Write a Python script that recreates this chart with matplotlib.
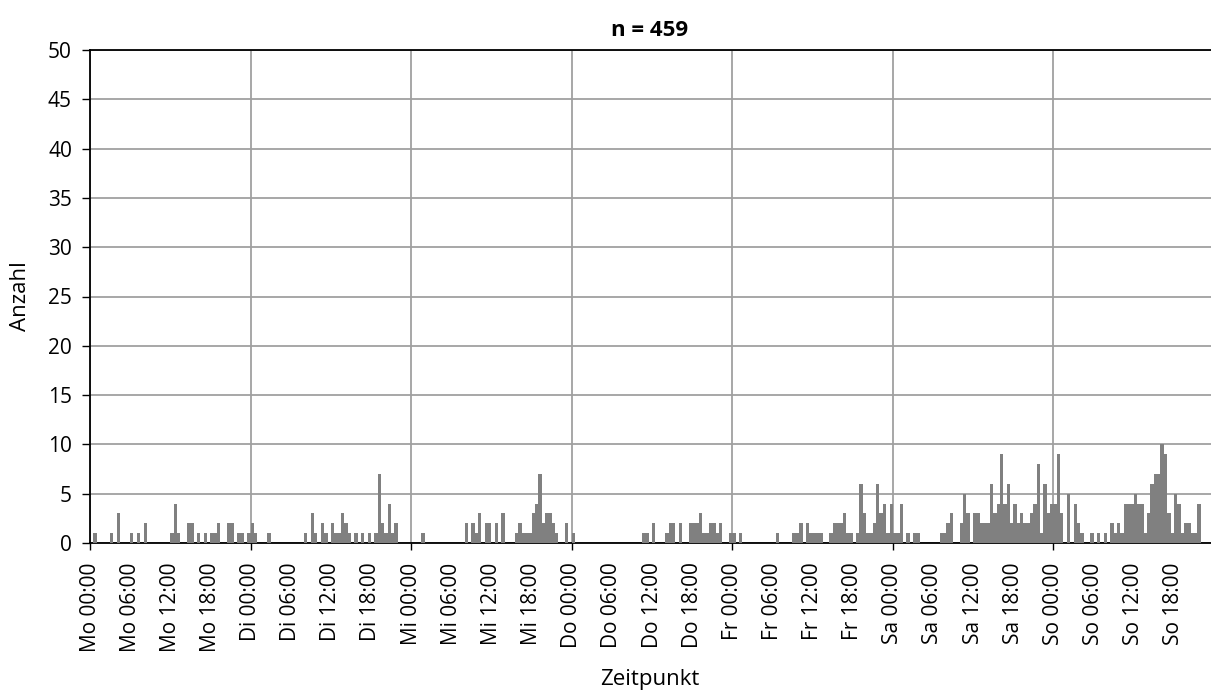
import numpy as np
import matplotlib
matplotlib.use('Agg')
import matplotlib.pyplot as plt

# counts per 30-minute bin, one list of 48 bins per weekday
mo = [0, 1, 0, 0, 0, 0, 1, 0, 3, 0, 0, 0,
      1, 0, 1, 0, 2, 0, 0, 0, 0, 0, 0, 0,
      1, 4, 1, 0, 0, 2, 2, 0, 1, 0, 1, 0,
      1, 1, 2, 0, 0, 2, 2, 0, 1, 1, 0, 1]
di = [2, 1, 0, 0, 0, 1, 0, 0, 0, 0, 0, 0,
      0, 0, 0, 0, 1, 0, 3, 1, 0, 2, 1, 0,
      2, 1, 1, 3, 2, 1, 0, 1, 0, 1, 0, 1,
      0, 1, 7, 2, 1, 4, 1, 2, 0, 0, 0, 0]
mi = [0, 0, 0, 1, 0, 0, 0, 0, 0, 0, 0, 0,
      0, 0, 0, 0, 2, 0, 2, 1, 3, 0, 2, 2,
      0, 2, 0, 3, 0, 0, 0, 1, 2, 1, 1, 1,
      3, 4, 7, 2, 3, 3, 2, 1, 0, 0, 2, 0]
do = [1, 0, 0, 0, 0, 0, 0, 0, 0, 0, 0, 0,
      0, 0, 0, 0, 0, 0, 0, 0, 0, 1, 1, 0,
      2, 0, 0, 0, 1, 2, 2, 0, 2, 0, 0, 2,
      2, 2, 3, 1, 1, 2, 2, 1, 2, 0, 0, 1]
fr = [1, 0, 1, 0, 0, 0, 0, 0, 0, 0, 0, 0,
      0, 1, 0, 0, 0, 0, 1, 1, 2, 0, 2, 1,
      1, 1, 1, 0, 0, 1, 2, 2, 2, 3, 1, 1,
      0, 1, 6, 3, 1, 1, 2, 6, 3, 4, 1, 4]
sa = [1, 1, 4, 0, 1, 0, 1, 1, 0, 0, 0, 0,
      0, 0, 1, 1, 2, 3, 0, 0, 2, 5, 3, 0,
      3, 3, 2, 2, 2, 6, 3, 4, 9, 4, 6, 2,
      4, 2, 3, 2, 2, 3, 4, 8, 1, 6, 3, 4]
so = [4, 9, 3, 0, 5, 0, 4, 2, 1, 0, 0, 1,
      0, 1, 0, 1, 0, 2, 1, 2, 1, 4, 4, 4,
      5, 4, 4, 1, 3, 6, 7, 7, 10, 9, 3, 1,
      5, 4, 1, 2, 2, 1, 1, 4, 0, 0, 0, 1]

days = ['Mo', 'Di', 'Mi', 'Do', 'Fr', 'Sa', 'So']
hours = ['00:00', '06:00', '12:00', '18:00']

counts = np.array(mo + di + mi + do + fr + sa + so)
x = np.arange(len(counts)) * 0.5   # start hour of each bin

plt.rcParams['font.family'] = ['Open Sans', 'DejaVu Sans']
FS = 16
TFS = 15

W, H = 1211, 693
fig = plt.figure(figsize=(W / 100, H / 100), dpi=100)
ax = fig.add_axes([90 / W, (H - 543) / H, (1214 - 90) / W, 493 / H])

ax.bar(x, counts, width=0.5, align='edge', color='#808080', linewidth=0, zorder=3)

ax.set_xlim(0, 168)
ax.set_ylim(0, 50)
ax.set_yticks(np.arange(0, 51, 5))
ax.tick_params(axis='y', labelsize=TFS, length=6, width=1, pad=7)

# day boundaries: major ticks with marks, 6h labels as minor ticks without marks
major = np.arange(0, 168, 24)
minor = [d * 24 + h for d in range(7) for h in (6, 12, 18)]
ax.set_xticks(major)
ax.set_xticklabels([f'{d} 00:00' for d in days], rotation=90)
ax.set_xticks(minor, minor=True)
ax.set_xticklabels([f'{d} {h}' for d in days for h in hours[1:]], rotation=90, minor=True)
ax.tick_params(axis='x', which='major', labelsize=TFS, length=5, width=1, pad=9)
ax.tick_params(axis='x', which='minor', labelsize=TFS, length=0, pad=14)

ax.grid(True, which='major', color='#a0a0a0', linewidth=1.3, zorder=0)
ax.set_axisbelow(True)
for s in ['left', 'bottom', 'top']:
    ax.spines[s].set_linewidth(1.3)
    ax.spines[s].set_color('black')
ax.spines['right'].set_visible(False)

fig.text(650 / W, 1 - 30 / H, 'n = 459', ha='center', va='center', fontsize=FS, fontweight='bold')
fig.text(20 / W, 1 - 296 / H, 'Anzahl', ha='center', va='center', fontsize=FS, rotation=90)
fig.text(650 / W, 1 - 680 / H, 'Zeitpunkt', ha='center', va='center', fontsize=FS)

fig.savefig('out.png', dpi=100)
